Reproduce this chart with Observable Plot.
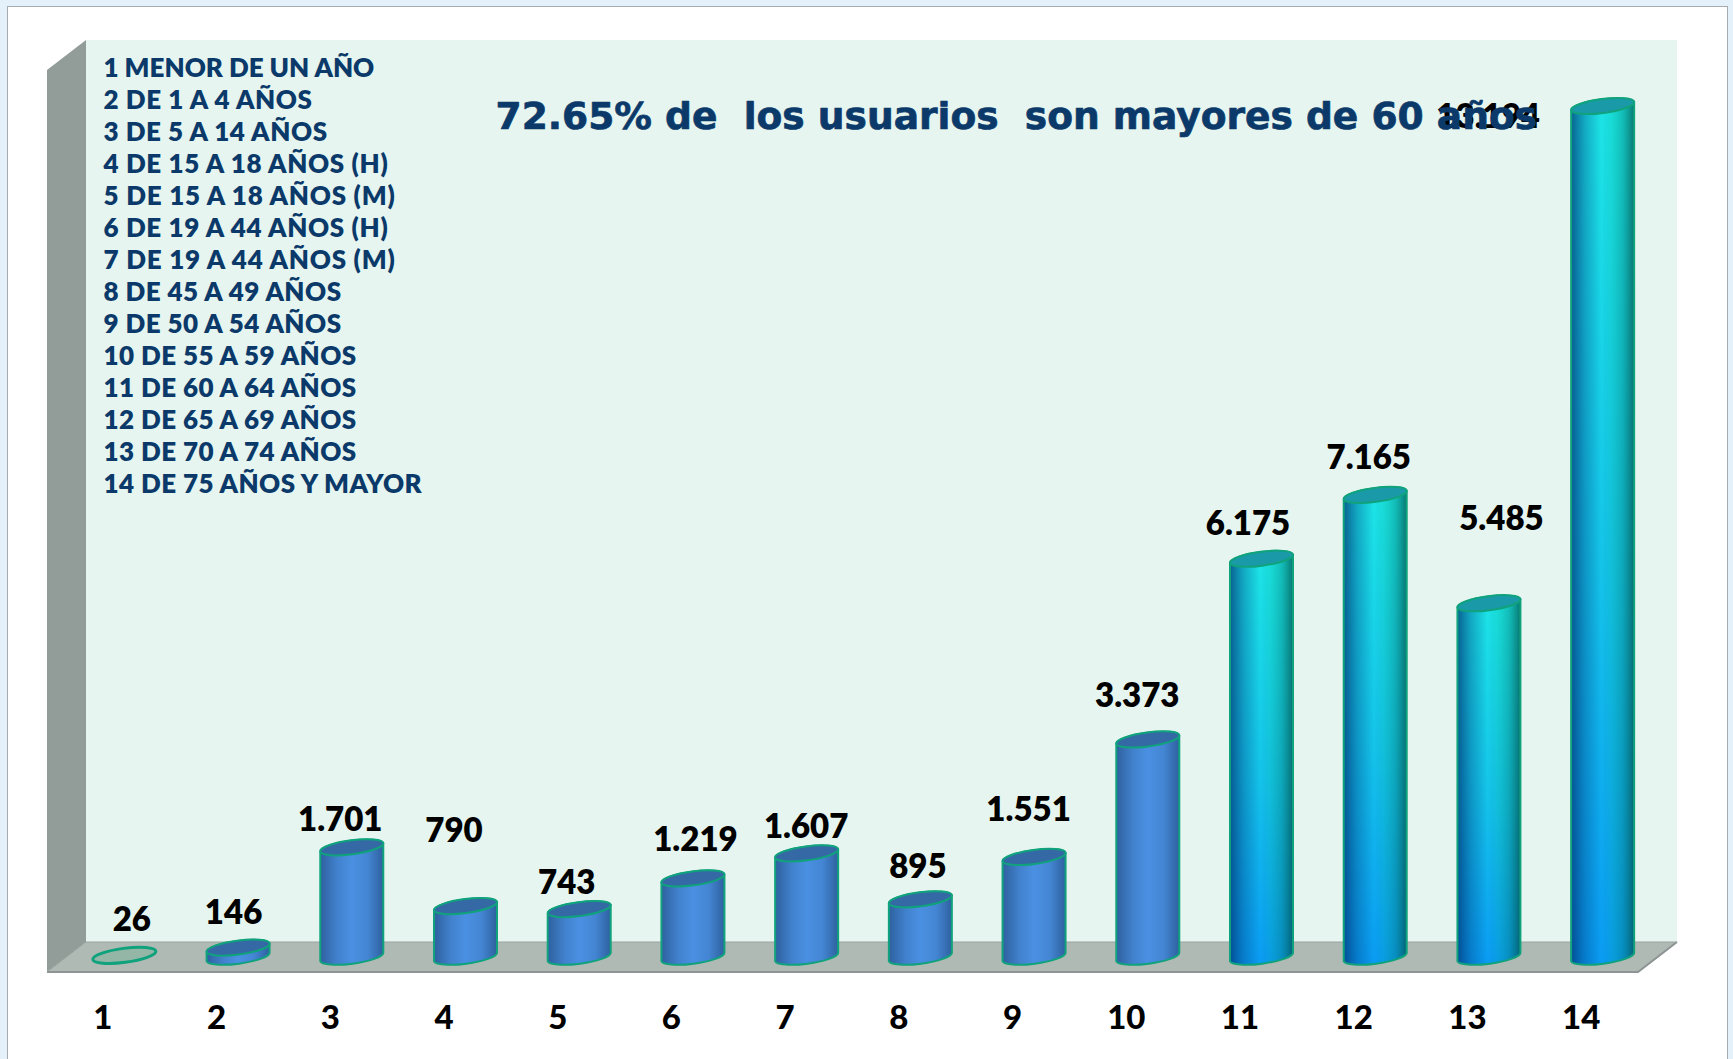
<!DOCTYPE html>
<html lang="es">
<head>
<meta charset="utf-8">
<title>Usuarios por grupo de edad</title>
<script src="https://cdn.jsdelivr.net/npm/d3@7"></script>
<script src="https://cdn.jsdelivr.net/npm/@observablehq/plot@0.6"></script>
<style>
  html, body { margin: 0; padding: 0; background: #e4f0fa; overflow: hidden; }
  #panel { position: absolute; left: 7px; top: 6px; width: 1721px; height: 1060px; background: #fff; border: 1px solid #a6abb0; box-sizing: border-box; }
  #chart { position: absolute; left: 0; top: 0; }
  svg text { white-space: pre; font-variant-numeric: tabular-nums; font-feature-settings: "tnum" 1; }
</style>
</head>
<body>
<div id="panel"></div>
<div id="chart"></div>
<script>
const categories = [1, 2, 3, 4, 5, 6, 7, 8, 9, 10, 11, 12, 13, 14];
const users = [26, 146, 1701, 790, 743, 1219, 1607, 895, 1551, 3373, 6175, 7165, 5485, 13194];
const seriesGroup = ["a", "a", "a", "a", "a", "a", "a", "a", "a", "a", "b", "b", "b", "b"];
const ageGroups = [
  "1 MENOR DE UN AÑO", "2 DE 1 A 4 AÑOS", "3 DE 5 A 14 AÑOS", "4 DE 15 A 18 AÑOS (H)",
  "5 DE 15 A 18 AÑOS (M)", "6 DE 19 A 44 AÑOS (H)", "7 DE 19 A 44 AÑOS (M)", "8 DE 45 A 49 AÑOS",
  "9 DE 50 A 54 AÑOS", "10 DE 55 A 59 AÑOS", "11 DE 60 A 64 AÑOS", "12 DE 65 A 69 AÑOS",
  "13 DE 70 A 74 AÑOS", "14 DE 75 AÑOS Y MAYOR"
];
const headline = "72.65% de  los usuarios  son mayores de 60 años";

// label nudges and legend tracking, as in the source slide
const labelDx = [7, -5, -12, -12, -13, 2, -1, -3, -6, -11, -14, -7, 12, -115];
const labelDy = [-35, -35, -27, -75, -26, -38, -26, -32, -47, -44, -35, -37, -84, 11];
const legendTrack = [0, 0.6, 0.56, 0.66, 0.77, 0.66, 0.77, 0.46, 0.46, 0.44, 0.44, 0.44, 0.44, 0.43];

const rows = categories.map((c, i) => ({c, v: users[i], g: seriesGroup[i], dx: labelDx[i], dy: labelDy[i]}));
const fmt = d3.formatLocale({decimal: ",", thousands: ".", grouping: [3], currency: ["", ""]}).format(",d");
const labelFont = "Lato, 'Open Sans', sans-serif";

// Room behind the bars: back wall, side wall and floor, hung off the y scale's zero
function room(index, {y}) {
  const z = y(0), back = z - 15, front = z + 15;
  const L0 = 47, L1 = 86, R1 = 1677, R0 = 1638, top = 40;
  const g = d3.create("svg:g");
  const defs = g.append("defs");
  const grad = (id, stops, x2 = 1, y2 = 0) => {
    const lg = defs.append("linearGradient").attr("id", id).attr("x1", 0).attr("y1", 0).attr("x2", x2).attr("y2", y2);
    stops.forEach(([o, c, a = 1]) => lg.append("stop").attr("offset", o).attr("stop-color", c).attr("stop-opacity", a));
  };
  grad("fillA", [[0, "#4a90e2"], [1, "#4a90e2"]], 0, 1);
  grad("fillB", [[0, "#1de6e6"], [0.55, "#14c4ea"], [1, "#0a9cf4"]], 0, 1);
  grad("shadeA", [[0, "#173a68", 0.55], [0.28, "#173a68", 0.16], [0.5, "#173a68", 0], [0.75, "#173a68", 0.12], [1, "#173a68", 0.55]]);
  grad("shadeB", [[0, "#002f70", 0.72], [0.22, "#003f80", 0.35], [0.48, "#004080", 0], [0.62, "#00a070", 0.12], [0.82, "#007060", 0.35], [1, "#004840", 0.7]]);
  const poly = (pts, fill) => g.append("polygon").attr("points", pts.map(p => p.join(",")).join(" ")).attr("fill", fill);
  poly([[L1, top], [R1, top], [R1, back], [L1, back]], "#e6f5ef");
  poly([[L0, top + 30], [L1, top], [L1, back], [L0, front]], "#929c98");
  poly([[L1, back], [R1, back], [R0, front], [L0, front]], "#aebab3");
  g.append("path").attr("d", `M${L0},${front}L${R0},${front}L${R1},${back}`).attr("fill", "none").attr("stroke", "#8e9393").attr("stroke-width", 2);
  g.append("path").attr("d", `M${L0},${front}L${L1},${back}L${R1},${back}`).attr("fill", "none").attr("stroke", "#9aa3a0").attr("stroke-width", 1);
  return g.node();
}

// Turns each bar's rect into a tilted cylinder
function cylinder(capFill) {
  const tilt = -7.5, ry = 7;
  return (index, scales, values, dims, ctx, next) => {
    const g = next(index, scales, values, dims, ctx);
    const sel = d3.select(g);
    sel.selectAll("rect").each(function () {
      const r = d3.select(this);
      const x = +r.attr("x"), w = +r.attr("width"), yt = +r.attr("y"), h = +r.attr("height");
      const fill = r.attr("fill") || sel.attr("fill");
      const shade = fill.replace("fill", "shade");
      const rx = w / 2 + 0.3, s = rx * Math.sin(-tilt * Math.PI / 180);
      const d = `M${x},${yt + s}L${x},${yt + h + s}A${rx},${ry} ${tilt} 0 0 ${x + w},${yt + h - s}L${x + w},${yt - s}A${rx},${ry} ${tilt} 0 0 ${x},${yt + s}Z`;
      const parent = d3.select(this.parentNode);
      const flat = h < 3;
      if (!flat) {
        parent.append("path").attr("d", d).attr("fill", fill);
        parent.append("path").attr("d", d).attr("fill", shade).attr("stroke", "#10a27c").attr("stroke-width", 2);
      }
      parent.append("ellipse")
        .attr("cx", x + w / 2).attr("cy", yt).attr("rx", rx).attr("ry", ry)
        .attr("transform", `rotate(${tilt} ${x + w / 2} ${yt})`)
        .attr("fill", flat ? "#93b6a6" : capFill)
        .attr("stroke", "#10a27c").attr("stroke-width", flat ? 3 : 2);
      r.remove();
    });
    return g;
  };
}

const barOpts = {x: "c", y: "v"};
const plot = Plot.plot({
  width: 1733,
  height: 1059,
  marginLeft: 67.5,
  marginRight: 73.5,
  marginTop: 106,
  marginBottom: 102,
  style: {background: "transparent", fontFamily: labelFont, overflow: "visible"},
  x: {domain: categories, type: "band", paddingInner: 0.446, paddingOuter: 0.223, round: false, label: null},
  y: {domain: [0, 13194], axis: null, label: null},
  marks: [
    room,
    Plot.barY(rows.filter(d => d.g === "a"), {...barOpts, fill: "url(#fillA)", render: cylinder("#3469a5")}),
    Plot.barY(rows.filter(d => d.g === "b"), {...barOpts, fill: "url(#fillB)", render: cylinder("#1a9aa8")}),
    Plot.axisX({
      anchor: "bottom", tickSize: 0, tickPadding: 48, dx: -22, label: null,
      fontSize: 33, fontWeight: 900, fill: "#000", lineAnchor: "top"
    }),
    ...rows.map(d => Plot.text([d], {
      x: "c", y: "v", text: r => fmt(r.v), dx: d.dx, dy: d.dy,
      fontSize: 33, fontWeight: 800, fill: "#000", lineAnchor: "middle"
    })),
    Plot.text([ageGroups.join("\n")], {
      text: d => d, frameAnchor: "top-left", dx: 35.5, dy: -52, lineHeight: 32 / 26,
      textAnchor: "start", lineAnchor: "top",
      fontSize: 26, fontWeight: 800, fill: "#0b3a6a",
      render(index, scales, values, dims, ctx, next) {
        const g = next(index, scales, values, dims, ctx);
        d3.select(g).selectAll("tspan").style("letter-spacing", (_, i) => legendTrack[i] + "px");
        return g;
      }
    }),
    Plot.text([headline], {
      text: d => d, frameAnchor: "top-left", dx: 427.5, dy: 10, textAnchor: "start", lineAnchor: "middle",
      fontFamily: "'DejaVu Sans', sans-serif", fontSize: 37.6, fontWeight: 700,
      fill: "#0b3a6a", stroke: "#0b3a6a", strokeWidth: 0.7
    })
  ]
});
document.getElementById("chart").append(plot);
</script>
</body>
</html>
